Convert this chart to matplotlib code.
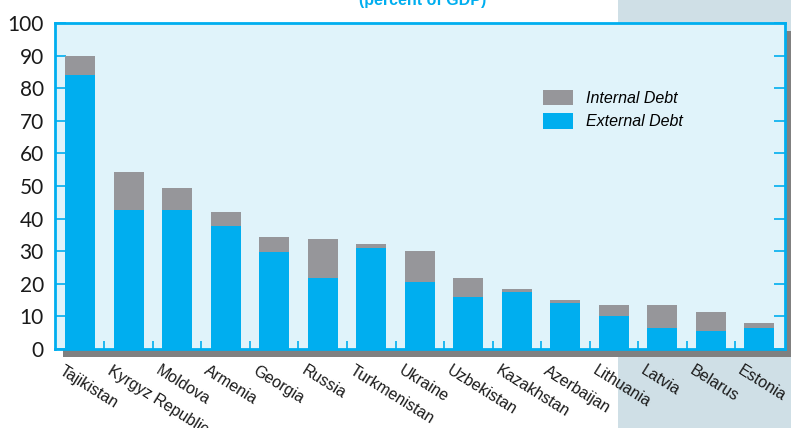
import numpy as np
import matplotlib.pyplot as plt
from matplotlib.patches import Rectangle, Patch
from matplotlib.transforms import ScaledTranslation

countries = ['Tajikistan', 'Kyrgyz Republic', 'Moldova', 'Armenia', 'Georgia',
             'Russia', 'Turkmenistan', 'Ukraine', 'Uzbekistan', 'Kazakhstan',
             'Azerbaijan', 'Lithuania', 'Latvia', 'Belarus', 'Estonia']
external = [84, 42.7, 42.7, 37.7, 29.7, 21.7, 31, 20.5, 16, 17.4, 14, 10, 6.3, 5.4, 6.3]
total = [90, 54.4, 49.5, 42, 34.4, 33.7, 32.2, 30, 21.7, 18.3, 15, 13.4, 13.4, 11.2, 7.9]
internal = [t - e for t, e in zip(total, external)]
yticks = list(range(0, 101, 10))

BLUE = '#00AEEF'
GREY = '#96969A'
W, H = 791, 428

fig = plt.figure(figsize=(W / 100, H / 100), dpi=100)
fig.patch.set_facecolor('white')

# shaded band on the right
fig.add_artist(Rectangle((618 / W, 0), (W - 618) / W, 1, transform=fig.transFigure,
                         facecolor='#CFDFE6', edgecolor='none', zorder=-3))

# axes box in pixels: left 55, right 785, top 23, bottom 349
l, r, t, b = 55, 785, 23, 349
ax = fig.add_axes([l / W, (H - b) / H, (r - l) / W, (b - t) / H])
# drop shadow
fig.add_artist(Rectangle(((l + 8) / W, (H - b - 8) / H), (r - l) / W, (b - t) / H,
                         transform=fig.transFigure, facecolor='#808080',
                         edgecolor='none', zorder=-1))

x = np.arange(len(countries))
ax.bar(x, external, width=0.62, color=BLUE, zorder=2)
ax.bar(x, internal, width=0.62, bottom=external, color=GREY, zorder=2)

ax.set_facecolor('#E0F3FA')
ax.set_xlim(-0.52, len(countries) - 0.47)
ax.set_ylim(0, 100)
for s in ax.spines.values():
    s.set_color(BLUE)
    s.set_linewidth(2)

ax.set_yticks(yticks)
ax.set_yticklabels([str(v) for v in yticks], fontsize=15, color='#1a1a1a',
                   family=['Lato', 'DejaVu Sans'])
ax.tick_params(axis='y', direction='in', length=8, width=1.2, color=BLUE,
               right=True, pad=8)

ax.set_xticks(x)
ax.set_xticklabels(countries, rotation=-32, ha='left', va='top',
                   rotation_mode='anchor', fontsize=11.5, color='#1a1a1a',
                   family=['Liberation Sans', 'DejaVu Sans'])
ax.tick_params(axis='x', which='major', length=0, pad=10)
off = ScaledTranslation(-16 / 100, 0, fig.dpi_scale_trans)
for lab in ax.get_xticklabels():
    lab.set_transform(lab.get_transform() + off)
ax.set_xticks(x[:-1] + 0.5, minor=True)
ax.tick_params(axis='x', which='minor', direction='in', length=6, width=1.2,
               color=BLUE)

handles = [Patch(facecolor=GREY, label='Internal Debt'),
           Patch(facecolor=BLUE, label='External Debt')]
ax.legend(handles=handles, loc='upper left', bbox_to_anchor=(535 / W, (H - 82) / H),
          bbox_transform=fig.transFigure, frameon=False, borderpad=0,
          handlelength=1.9, handleheight=1.1, handletextpad=0.8, labelspacing=0.45,
          prop={'family': ['Liberation Sans', 'DejaVu Sans'], 'style': 'italic',
                'size': 11.5})

fig.text(423 / W, (H - 5) / H, '(percent of GDP)', ha='center', va='baseline',
         color=BLUE, fontsize=11.5, fontweight='bold',
         family=['Liberation Sans', 'DejaVu Sans'])

fig.savefig('out.png', dpi=100)
